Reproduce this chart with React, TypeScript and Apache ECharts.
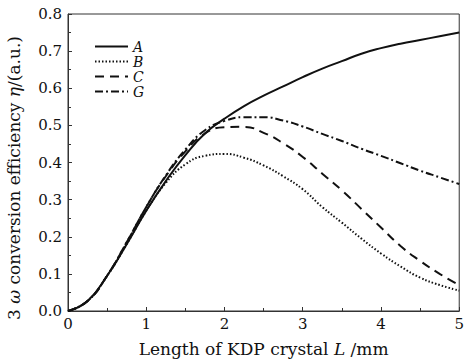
import React, { useEffect, useRef } from "react";
import * as echarts from "echarts";

const lengths = [0, 0.25, 0.5, 0.75, 1.0, 1.25, 1.5, 1.75, 2.0, 2.25, 2.5, 2.75, 3.0, 3.25, 3.5, 3.75, 4.0, 4.25, 4.5, 4.75, 5.0];
const seriesNames = ["A", "B", "C", "G"];
const valuesA = [0, 0.027, 0.095, 0.18, 0.27, 0.35, 0.42, 0.478, 0.518, 0.552, 0.58, 0.605, 0.63, 0.653, 0.673, 0.693, 0.708, 0.72, 0.73, 0.74, 0.75];
const valuesB = [0, 0.027, 0.095, 0.18, 0.27, 0.345, 0.395, 0.418, 0.423, 0.413, 0.392, 0.363, 0.328, 0.28, 0.238, 0.195, 0.155, 0.12, 0.09, 0.07, 0.055];
const valuesC = [0, 0.027, 0.095, 0.185, 0.28, 0.363, 0.43, 0.478, 0.495, 0.496, 0.48, 0.452, 0.415, 0.37, 0.325, 0.275, 0.225, 0.175, 0.135, 0.1, 0.07];
const valuesG = [0, 0.027, 0.095, 0.185, 0.28, 0.365, 0.435, 0.487, 0.512, 0.522, 0.522, 0.513, 0.497, 0.477, 0.458, 0.437, 0.418, 0.398, 0.378, 0.36, 0.342];
const allValues = [valuesA, valuesB, valuesC, valuesG];

const FONT = "DejaVu Serif";

export default function App() {
  const ref = useRef<HTMLDivElement>(null);
  useEffect(() => {
    if (!ref.current) return;
    const chart = echarts.init(ref.current, undefined, { renderer: "svg" });
    const dashTypes: any[] = ["solid", [1.5, 2], [9, 6], [8, 3, 2, 3]];
    const series = seriesNames.map((name, i) => ({
      name,
      type: "line",
      smooth: true,
      symbol: "none",
      data: lengths.map((x, j) => [x, allValues[i][j]]),
      lineStyle: { color: "#111", width: 2, type: dashTypes[i] },
      itemStyle: { color: "#111" },
    }));
    const rich = {
      n: { fontFamily: FONT, fontSize: 17, fill: "#111", color: "#111" },
      i: { fontFamily: FONT, fontSize: 17, fill: "#111", color: "#111", fontStyle: "italic" },
    };
    chart.setOption({
      animation: false,
      backgroundColor: "#fff",
      grid: { left: 68, right: 3, top: 14, bottom: 51, show: true, borderColor: "#333", borderWidth: 1 },
      legend: {
        orient: "vertical",
        left: 94,
        top: 39,
        itemWidth: 33,
        itemHeight: 10,
        itemGap: 0,
        padding: 0,
        data: seriesNames,
        itemStyle: { opacity: 0 },
        textStyle: { fontFamily: FONT, fontStyle: "italic", fontSize: 14, lineHeight: 15, color: "#111", padding: [0, 0, 0, 0] },
      },
      graphic: [
        {
          type: "text",
          x: 14,
          y: 178,
          rotation: Math.PI / 2,
          style: {
            text: "{n|3 }{i|ω}{n| conversion efficiency }{i|η}{n|/(a.u.)}",
            rich,
            align: "center",
            verticalAlign: "middle",
          },
        },
      ],
      xAxis: {
        type: "value",
        min: 0,
        max: 5,
        interval: 1,
        name: "{n|Length of KDP crystal }{i|L}{n| /mm}",
        nameLocation: "middle",
        nameGap: 29,
        nameTextStyle: { rich },
        axisLine: { lineStyle: { color: "#333", width: 1 } },
        axisTick: { inside: true, length: 4, lineStyle: { color: "#333" } },
        minorTick: { show: true, splitNumber: 2, length: 3, lineStyle: { color: "#333" } },
        splitLine: { show: false },
        axisLabel: { fontFamily: FONT, fontSize: 15, color: "#111", margin: 5 },
      },
      yAxis: {
        type: "value",
        min: 0,
        max: 0.8,
        interval: 0.1,
        axisLine: { lineStyle: { color: "#333", width: 1 } },
        axisTick: { inside: true, length: 4, lineStyle: { color: "#333" } },
        minorTick: { show: true, splitNumber: 2, length: 3, lineStyle: { color: "#333" } },
        splitLine: { show: false },
        axisLabel: { fontFamily: FONT, fontSize: 15, color: "#111", margin: 6, formatter: (v: number) => v.toFixed(1) },
      },
      series,
    });
    return () => chart.dispose();
  }, []);
  return <div ref={ref} style={{ width: 467, height: 362, position: "absolute", left: 0, top: 0 }} />;
}
